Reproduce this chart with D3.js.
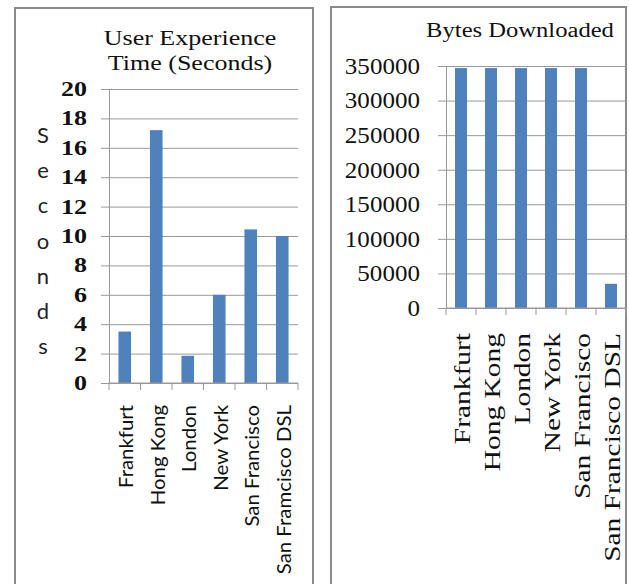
<!DOCTYPE html>
<html>
<head>
<meta charset="utf-8">
<script src="https://cdn.jsdelivr.net/npm/d3@7"></script>
<style>
  body { margin: 0; background: #fff; }
  svg { display: block; }
</style>
</head>
<body>
<div id="chart"></div>
<script>
// data
const uxCities = ["Frankfurt", "Hong Kong", "London", "New York", "San Francisco", "San Framcisco DSL"];
const uxSeconds = [3.5, 17.2, 1.85, 6.0, 10.45, 10.0];
const uxTicks = [0, 2, 4, 6, 8, 10, 12, 14, 16, 18, 20];

const byteCities = ["Frankfurt", "Hong Kong", "London", "New York", "San Francisco", "San Francisco DSL"];
const bytesDownloaded = [347000, 347000, 347000, 347000, 347000, 35000];
const byteTicks = [0, 50000, 100000, 150000, 200000, 250000, 300000, 350000];

const barColor = '#4f81bd';
const gridColor = '#999';
const serif = '"Liberation Serif", "Times New Roman", serif';
const humanist = 'Lato, "Open Sans", sans-serif';

const svg = d3.select('#chart').append('svg')
    .attr('width', 629)
    .attr('height', 584);

function drawPanel(opts) {
    const g = svg.append('g');

    // panel frame
    g.append('rect')
        .attr('x', opts.frame[0]).attr('y', opts.frame[1])
        .attr('width', opts.frame[2]).attr('height', opts.frame[3])
        .attr('fill', 'none')
        .attr('stroke', '#8a8a8a')
        .attr('stroke-width', 2);

    const x = d3.scaleBand()
        .domain(opts.cats)
        .range([opts.left, opts.right])
        .paddingInner(0.6)
        .paddingOuter(0.3);

    const y = d3.scaleLinear()
        .domain([0, d3.max(opts.ticks)])
        .range([opts.bottom, opts.top]);

    // gridlines + labels
    const yAxis = g.append('g')
        .attr('transform', 'translate(' + opts.left + ',0)')
        .call(d3.axisLeft(y)
            .tickValues(opts.ticks)
            .tickFormat(d3.format('d'))
            .tickSize(-(opts.right - opts.left))
            .tickSizeOuter(0));
    yAxis.select('.domain').attr('stroke', gridColor);
    yAxis.selectAll('.tick line')
        .attr('stroke', gridColor)
        .attr('x1', -8);
    yAxis.selectAll('.tick text')
        .attr('x', 0)
        .attr('transform', 'translate(' + (-opts.tickPad) + ',0) scale(' + opts.tickStretch + ',1)')
        .attr('fill', '#111')
        .style('font-family', serif)
        .style('font-size', opts.tickFont + 'px')
        .style('font-weight', opts.tickWeight);

    // bars
    g.selectAll('rect.bar')
        .data(opts.values)
        .enter().append('rect')
        .attr('class', 'bar')
        .attr('x', (d, i) => x(opts.cats[i]))
        .attr('width', x.bandwidth())
        .attr('y', d => y(d))
        .attr('height', d => y(0) - y(d))
        .attr('fill', barColor);

    // x axis line with ticks between categories
    g.append('line')
        .attr('x1', opts.left).attr('x2', opts.right)
        .attr('y1', y(0)).attr('y2', y(0))
        .attr('stroke', gridColor);
    const bounds = d3.range(opts.cats.length + 1).map(i => opts.left + i * x.step());
    g.selectAll('line.xtick')
        .data(bounds)
        .enter().append('line')
        .attr('class', 'xtick')
        .attr('x1', d => d).attr('x2', d => d)
        .attr('y1', y(0)).attr('y2', y(0) + 7)
        .attr('stroke', gridColor);

    // rotated category labels
    g.selectAll('text.cat')
        .data(opts.cats)
        .enter().append('text')
        .attr('class', 'cat')
        .attr('transform', d => 'translate(' + (x(d) + x.bandwidth() / 2 + opts.catShift) + ',' + opts.catTop + ') rotate(-90) scale(' + opts.catStretch + ',1)')
        .attr('text-anchor', 'end')
        .attr('dy', '0.35em')
        .style('font-family', opts.catFamily)
        .style('font-size', opts.catFont + 'px')
        .attr('fill', '#111')
        .text(d => d);

    // title
    g.selectAll('text.title')
        .data(opts.title)
        .enter().append('text')
        .attr('class', 'title')
        .attr('transform', (d, i) => 'translate(' + opts.titleX + ',' + (opts.titleY + i * 25) + ') scale(' + opts.titleStretch + ',1)')
        .attr('text-anchor', 'middle')
        .style('font-family', serif)
        .style('font-size', opts.titleFont + 'px')
        .attr('fill', '#111')
        .text(d => d);

    return g;
}

const left = drawPanel({
    frame: [15, 8, 298, 600],
    cats: uxCities, values: uxSeconds, ticks: uxTicks,
    left: 109, right: 298, top: 89, bottom: 383,
    tickPad: 22, tickFont: 20, tickWeight: 'bold', tickStretch: 1.3,
    catTop: 405, catShift: 1.5, catFont: 20, catFamily: humanist, catStretch: 1.02,
    title: ['User Experience', 'Time (Seconds)'], titleX: 190, titleY: 45, titleFont: 20, titleStretch: 1.3
});

// vertical stacked axis title
const letters = 'Seconds'.split('');
left.selectAll('text.ylab')
    .data(letters)
    .enter().append('text')
    .attr('class', 'ylab')
    .attr('x', 43)
    .attr('y', (d, i) => 143 + i * 35.2)
    .attr('text-anchor', 'middle')
    .style('font-family', humanist)
    .style('font-size', '22px')
    .attr('fill', '#222')
    .text(d => d);

drawPanel({
    frame: [331, 7, 295, 600],
    cats: byteCities, values: bytesDownloaded, ticks: byteTicks,
    left: 446, right: 626, top: 66, bottom: 308,
    tickPad: 26, tickFont: 23, tickWeight: 'normal', tickStretch: 1.09,
    catTop: 333, catShift: 1, catFont: 23, catFamily: serif, catStretch: 1.28,
    title: ['Bytes Downloaded'], titleX: 520, titleY: 37, titleFont: 20, titleStretch: 1.23
});
</script>
</body>
</html>
